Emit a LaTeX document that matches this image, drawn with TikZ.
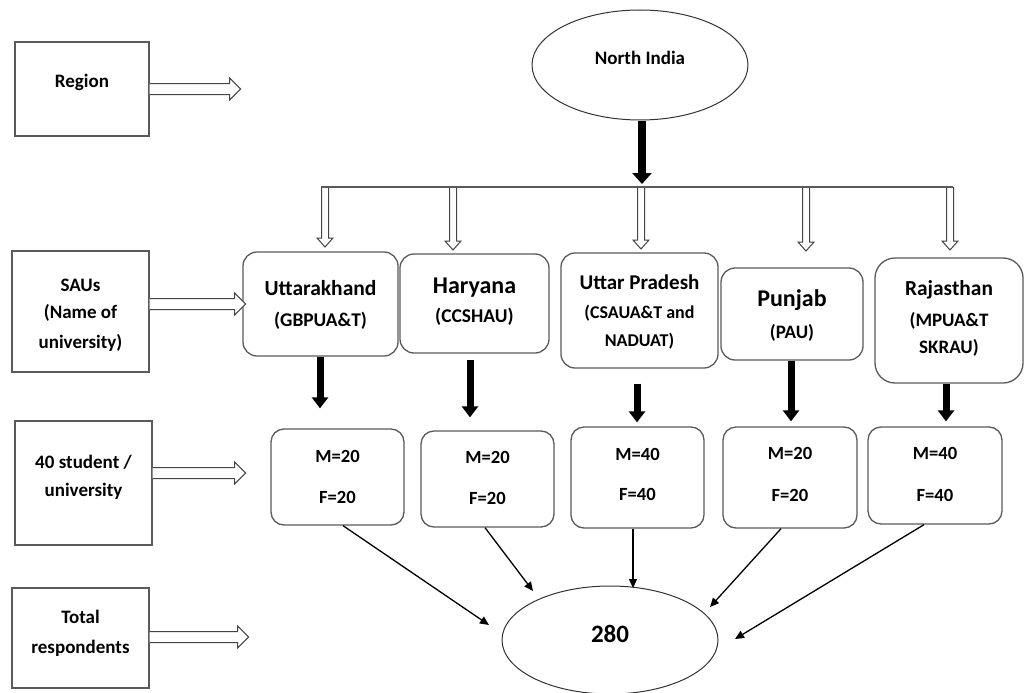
\documentclass[tikz,border=0pt]{standalone}
\usepackage{fontspec}
\setmainfont{Carlito}
\usetikzlibrary{arrows.meta,shapes.geometric}
\definecolor{boxgray}{HTML}{5A5A5A}
\definecolor{arrgray}{HTML}{454545}
\newcommand{\fs}[1]{\fontsize{#1}{#1}\selectfont\bfseries}
\tikzset{
  lbox/.style={draw=boxgray, line width=1.3pt, rectangle, inner sep=0pt},
  ubox/.style={draw=boxgray, line width=1.3pt, rectangle, rounded corners=14pt, inner sep=0pt},
  rbox/.style={draw=boxgray, line width=1.3pt, rectangle, rounded corners=20pt, inner sep=0pt},
  mbox/.style={draw=boxgray, line width=1.3pt, rectangle, rounded corners=13pt, inner sep=0pt},
  ell/.style={draw=black!80, line width=1pt, ellipse, inner sep=0pt},
  txt/.style={anchor=base, inner sep=0pt, text=black},
  hollow/.style={draw=arrgray, fill=white, line width=1pt, line join=miter},
  hline/.style={draw=boxgray, line width=1.6pt},
  thickarr/.style={draw=black, line width=7pt, -{Triangle[length=11pt,width=16pt]}},
  thinarr/.style={draw=black, line width=1.3pt, -{Triangle[length=9pt,width=8pt]}}
}
\newcommand{\bx}[6]{\node[#2, minimum width={(#5)-(#3)}, minimum height={(#6)-(#4)}] (#1) at ({((#3)+(#5))/2},{((#4)+(#6))/2}) {};}
\newcommand{\tx}[4]{\node[txt, font=\fs{#3}] (#1) at (#2) {#4};}
\newcommand{\harrow}[6]{\begin{scope}[shift={#1},rotate=#2]
\draw[hollow] (0,#4) -- ({#3-#6},#4) -- ({#3-#6},#5) -- (#3,0) -- ({#3-#6},-#5) -- ({#3-#6},-#4) -- (0,-#4);
\end{scope}}
\begin{document}
\begin{tikzpicture}[x=1pt,y=-1pt]
\useasboundingbox[fill=white] (0,0) rectangle (1025,693);

% ---- left column boxes
\bx{lreg}{lbox}{15}{42}{149}{136}
\tx{treg}{82,88}{19}{Region}
\bx{lsau}{lbox}{12}{251}{149}{372}
\tx{tsau1}{80.5,291}{19}{SAUs}
\tx{tsau2}{80.5,318}{19}{(Name of}
\tx{tsau3}{80.5,348}{19}{university)}
\bx{lstu}{lbox}{15}{421}{152}{545}
\tx{tstu1}{83.5,468}{19}{40 student /}
\tx{tstu2}{83.5,496}{19}{university}
\bx{ltot}{lbox}{12}{588}{149}{688}
\tx{ttot1}{80.5,623}{19}{Total}
\tx{ttot2}{80.5,653}{19}{respondents}

% ---- top ellipse
\node[ell, minimum width=216pt, minimum height=110pt] (ni) at (640,65) {};
\tx{tni}{640,64}{19}{North India}

% ---- university boxes
\bx{uk}{ubox}{243}{252}{398}{356}
\tx{tuk1}{320.5,295}{21.5}{Uttarakhand}
\tx{tuk2}{320.5,326}{19.4}{(GBPUA\&T)}
\bx{hr}{ubox}{400}{254}{549}{353}
\tx{thr1}{474.5,293}{24}{Haryana}
\tx{thr2}{474.5,322}{19.5}{(CCSHAU)}
\bx{up}{ubox}{561}{253}{718}{368}
\tx{tup1}{639.5,289}{21}{Uttar Pradesh}
\tx{tup2}{639.5,318}{18}{(CSAUA\&T and}
\tx{tup3}{639.5,346}{18}{NADUAT)}
\bx{pb}{ubox}{721}{268}{863}{360}
\tx{tpb1}{792,306}{24}{Punjab}
\tx{tpb2}{792,338}{19}{(PAU)}
\bx{rj}{rbox}{875}{258}{1023}{383}
\tx{trj1}{949,295}{21.4}{Rajasthan}
\tx{trj2}{949,326}{19}{(MPUA\&T}
\tx{trj3}{949,353}{19}{SKRAU)}

% ---- M/F boxes
\bx{mf1}{mbox}{271}{429}{404}{525}
\tx{tm1}{337.5,462}{18.6}{M=20}
\tx{tf1}{337.5,503}{18.6}{F=20}
\bx{mf2}{mbox}{421}{431}{554}{527}
\tx{tm2}{487.5,463}{18.6}{M=20}
\tx{tf2}{487.5,504}{18.6}{F=20}
\bx{mf3}{mbox}{571}{427}{704}{528}
\tx{tm3}{637.5,460}{18.6}{M=40}
\tx{tf3}{637.5,500}{18.6}{F=40}
\bx{mf4}{mbox}{723}{427}{857}{528}
\tx{tm4}{790,459}{18.6}{M=20}
\tx{tf4}{790,501}{18.6}{F=20}
\bx{mf5}{mbox}{868}{427}{1002}{524}
\tx{tm5}{935,459}{18.6}{M=40}
\tx{tf5}{935,501}{18.6}{F=40}

% ---- total ellipse
\node[ell, minimum width=216pt, minimum height=108pt] (tot) at (610,640) {};
\tx{ttot}{610,642}{25}{280}

% ---- hollow arrows from left column
\harrow{(lreg.east)}{0}{91}{5.5}{11}{11}
\harrow{([yshift=7.5pt]lsau.east)}{0}{96}{5.5}{11}{11}
\harrow{([yshift=10pt]lstu.east)}{0}{93}{5.5}{11}{11}
\harrow{([yshift=1pt]ltot.east)}{0}{99}{5.5}{11}{11}

% ---- branch line and hollow arrows down
\coordinate (hlL) at (321,187);
\coordinate (hlR) at (953,187);
\coordinate (br1) at (325,187);
\coordinate (br2) at (453,187);
\coordinate (br3) at (641,187);
\coordinate (br4) at (806,187);
\coordinate (br5) at (950,187);
\harrow{(br1)}{-90}{60}{3.5}{8}{9}
\harrow{(br2)}{-90}{63}{3.5}{8}{9}
\harrow{(br3)}{-90}{62}{3.5}{8}{9}
\harrow{(br4)}{-90}{64}{3.5}{8}{9}
\harrow{(br5)}{-90}{63}{3.5}{8}{9}
\draw[hline] (hlL) -- (hlR);

% ---- thick black arrows
\draw[thickarr, line width=8pt, -{Triangle[length=11pt,width=19pt]}, shorten >=3pt]
  ([xshift=2pt]ni.south) -- ([xshift=2pt]ni.south |- hlL);
\draw[thickarr, shorten >=20pt] ([xshift=-0.5pt]uk.south) -- ([xshift=-0.5pt]uk.south |- mf1.north);
\draw[thickarr, shorten <=6pt, shorten >=13pt] ([xshift=-4.5pt]hr.south) -- ([xshift=-4.5pt]hr.south |- mf2.north);
\draw[thickarr, shorten <=15pt, shorten >=4pt] ([xshift=-2.5pt]up.south) -- ([xshift=-2.5pt]up.south |- mf3.north);
\draw[thickarr, shorten >=5pt] ([xshift=-1pt]pb.south) -- ([xshift=-1pt]pb.south |- mf4.north);
\draw[thickarr, shorten >=5pt] ([xshift=-3pt]rj.south) -- ([xshift=-3pt]rj.south |- mf5.north);

% ---- thin arrows into total
\coordinate (e1) at (489,625);
\coordinate (e2) at (533,591);
\coordinate (e3) at (633,588);
\coordinate (e4) at (710,607);
\coordinate (e5) at (735,639);
\draw[thinarr] ([xshift=5.5pt]mf1.south) -- (e1);
\draw[thinarr] ([xshift=-2.5pt]mf2.south) -- (e2);
\draw[thinarr] ([xshift=-4.5pt]mf3.south) -- (e3);
\draw[thinarr] ([xshift=-9pt]mf4.south) -- (e4);
\draw[thinarr] ([xshift=-11pt]mf5.south) -- (e5);
\end{tikzpicture}
\end{document}
